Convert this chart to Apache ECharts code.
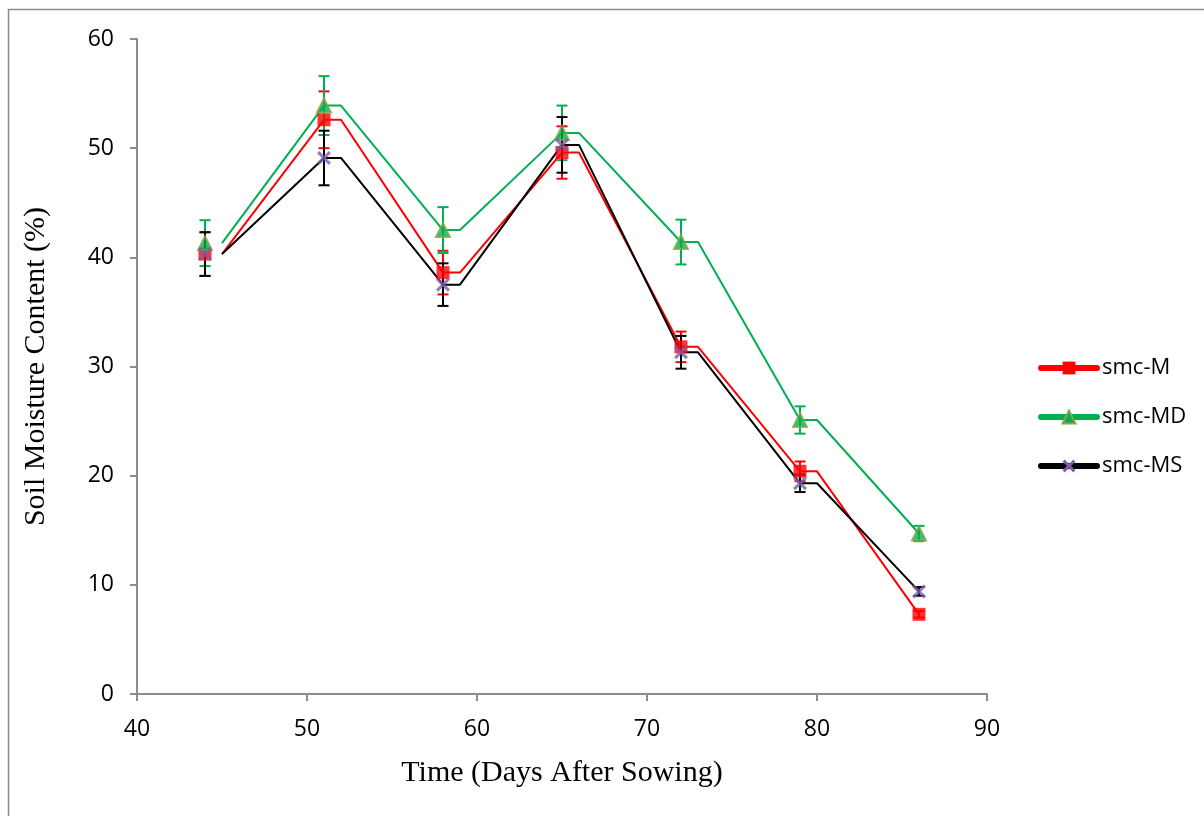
<!DOCTYPE html>
<html>
<head>
<meta charset="utf-8">
<script src="https://cdn.jsdelivr.net/npm/echarts@6/dist/echarts.min.js"></script>
<style>
html,body{margin:0;padding:0;background:#fff;}
#chart{width:1204px;height:816px;}
</style>
</head>
<body>
<div id="chart"></div>
<script>
// ---- data ----
const days = [44, 51, 58, 65, 72, 79, 86];
const xTicks = [40, 50, 60, 70, 80, 90];
const yTicks = [0, 10, 20, 30, 40, 50, 60];
const seriesNames = ['smc-M', 'smc-MD', 'smc-MS'];
const smcM     = [40.3, 52.6, 38.6, 49.6, 31.8, 20.4, 7.3];
const smcM_err = [2.0, 2.6, 2.0, 2.4, 1.4, 0.9, 0.3];
const smcMD     = [41.3, 53.9, 42.5, 51.4, 41.4, 25.1, 14.7];
const smcMD_err = [2.1, 2.7, 2.1, 2.5, 2.05, 1.25, 0.7];
const smcMS     = [40.3, 49.1, 37.5, 50.3, 31.3, 19.3, 9.4];
const smcMS_err = [2.0, 2.5, 1.95, 2.55, 1.5, 0.8, 0.4];
// connecting line is drawn shifted one day to the right of each point (as in the reference)
const lineShift = 1;

const colors = ['#FF0000', '#00B050', '#000000'];
const xPath = 'path://M1.6,0 L5,3.4 L8.4,0 L10,1.6 L6.6,5 L10,8.4 L8.4,10 L5,6.6 L1.6,10 L0,8.4 L3.4,5 L0,1.6 Z';
const markerDefs = [
  {symbol: 'rect', size: 13, itemStyle: {color: '#FF0000'}},
  {symbol: 'triangle', size: 14, itemStyle: {color: '#00B050', borderColor: '#8AA44A', borderWidth: 2}},
  {symbol: xPath, size: 14, itemStyle: {color: '#7B5EA7'}}
];
const values = [smcM, smcMD, smcMS];
const errs = [smcM_err, smcMD_err, smcMS_err];

function lineData(v) {
  const out = [[days[0] + lineShift, v[0]]];
  for (let i = 1; i < days.length; i++) {
    out.push([days[i], v[i]]);
    if (i < days.length - 1) out.push([days[i] + lineShift, v[i]]);
  }
  return out;
}

const series = [];
for (let k = 0; k < 3; k++) {
  series.push({
    name: seriesNames[k],
    type: 'line',
    z: 2,
    data: lineData(values[k]),
    symbol: markerDefs[k].symbol,
    symbolSize: markerDefs[k].size,
    showSymbol: false,
    itemStyle: markerDefs[k].itemStyle,
    lineStyle: {color: colors[k], width: 2},
    color: colors[k],
    animation: false
  });
}
for (let k = 0; k < 3; k++) {
  const col = colors[k];
  series.push({
    name: seriesNames[k] + ' error',
    type: 'custom',
    z: 3,
    silent: true,
    itemStyle: {color: col},
    data: days.map((d, i) => [d, values[k][i] - errs[k][i], values[k][i] + errs[k][i]]),
    encode: {x: 0, y: [1, 2]},
    renderItem: function (params, api) {
      const x = api.value(0);
      const lo = api.coord([x, api.value(1)]);
      const hi = api.coord([x, api.value(2)]);
      const hw = 5.5;
      const st = {stroke: col, lineWidth: 2};
      return {
        type: 'group',
        children: [
          {type: 'line', shape: {x1: lo[0], y1: lo[1], x2: hi[0], y2: hi[1]}, style: st},
          {type: 'line', shape: {x1: lo[0] - hw, y1: lo[1], x2: lo[0] + hw, y2: lo[1]}, style: st},
          {type: 'line', shape: {x1: hi[0] - hw, y1: hi[1], x2: hi[0] + hw, y2: hi[1]}, style: st}
        ]
      };
    }
  });
}
for (let k = 0; k < 3; k++) {
  series.push({
    name: seriesNames[k],
    type: 'scatter',
    z: 4,
    data: days.map((d, i) => [d, values[k][i]]),
    symbol: markerDefs[k].symbol,
    symbolSize: markerDefs[k].size,
    itemStyle: markerDefs[k].itemStyle,
    animation: false
  });
}

const chart = echarts.init(document.getElementById('chart'), null, {renderer: 'canvas'});
chart.setOption({
  animation: false,
  backgroundColor: '#ffffff',
  graphic: [{
    type: 'rect',
    shape: {x: 8.5, y: 9.5, width: 1400, height: 1000},
    style: {fill: 'none', stroke: '#8a8a8a', lineWidth: 1.5},
    silent: true, z: 0
  }],
  grid: {left: 137, top: 39, right: 217, bottom: 122, containLabel: false},
  legend: {
    orient: 'vertical',
    left: 1033,
    top: 352,
    padding: 5,
    itemWidth: 56,
    itemHeight: 16,
    itemGap: 27,
    lineStyle: {width: 6, cap: 'round'},
    data: seriesNames.map(n => ({name: n})),
    textStyle: {fontFamily: 'Open Sans', fontSize: 22, lineHeight: 22, color: '#000'}
  },
  xAxis: {
    type: 'value',
    min: xTicks[0],
    max: xTicks[xTicks.length - 1],
    interval: 10,
    name: 'Time (Days After Sowing)',
    nameLocation: 'middle',
    nameGap: 64,
    nameTextStyle: {fontFamily: 'Liberation Serif', fontSize: 30, color: '#000'},
    axisLine: {lineStyle: {color: '#8c8c8c', width: 2}},
    axisTick: {show: true, inside: false, length: 7, lineStyle: {color: '#8c8c8c', width: 2}},
    axisLabel: {fontFamily: 'Open Sans', fontSize: 23, color: '#000', margin: 24},
    splitLine: {show: false}
  },
  yAxis: {
    type: 'value',
    min: yTicks[0],
    max: yTicks[yTicks.length - 1],
    interval: 10,
    name: 'Soil Moisture Content (%)',
    nameLocation: 'middle',
    nameGap: 86,
    nameTextStyle: {fontFamily: 'Liberation Serif', fontSize: 30, color: '#000'},
    axisLine: {show: true, lineStyle: {color: '#8c8c8c', width: 2}},
    axisTick: {show: true, inside: false, length: 7, lineStyle: {color: '#8c8c8c', width: 2}},
    axisLabel: {fontFamily: 'Open Sans', fontSize: 23, color: '#000', margin: 23},
    splitLine: {show: false}
  },
  series: series
});
</script>
</body>
</html>
